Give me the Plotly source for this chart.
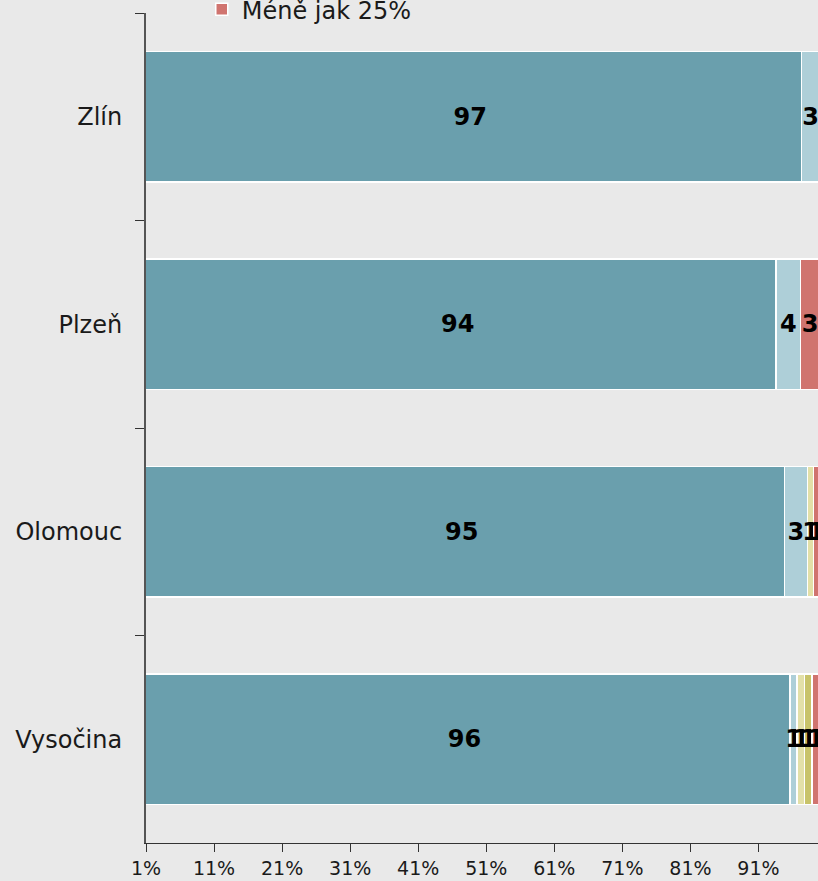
import plotly.graph_objects as go

# ---------- DATA ----------
regions = ["Zlín", "Plzeň", "Olomouc", "Vysočina"]

series_names = ["100%", "75–99%", "50–74%", "25–49%", "Méně jak 25%"]
s_100 = [97.3, 93.6, 94.8, 95.6]
s_75 = [2.7, 3.6, 3.4, 1.1]
s_50 = [None, None, 0.9, 1.1]
s_25 = [None, None, None, 1.1]
s_lt25 = [None, 2.8, 0.9, 1.1]

x_ticks = [1, 11, 21, 31, 41, 51, 61, 71, 81, 91]

# ---------- STYLE ----------
COLORS = ["#6a9fad", "#aecfd8", "#e3e0a8", "#c8c36a", "#d0746f"]
BG = "#e9e9e9"
FONT = "Verdana, DejaVu Sans, sans-serif"

fig = go.Figure()

for i, (name, vals) in enumerate(zip(series_names, [s_100, s_75, s_50, s_25, s_lt25])):
    fig.add_trace(go.Bar(
        y=regions, x=vals, name=name, orientation="h",
        marker=dict(color=COLORS[i], line=dict(color="white", width=1.5)),
        texttemplate="%{x:.0f}", textposition="inside",
        insidetextanchor="middle", textangle=0, constraintext="none",
        textfont=dict(family=FONT, size=24, color="black", weight="bold"),
        showlegend=(i == len(series_names) - 1),
    ))

fig.update_layout(
    width=818, height=881,
    barmode="stack", bargap=0.37,
    paper_bgcolor=BG, plot_bgcolor=BG,
    font=dict(family=FONT, color="#1a1a1a"),
    margin=dict(l=146, r=0, t=13, b=38, autoexpand=False),
    uniformtext=dict(minsize=24, mode="show"),
    xaxis=dict(range=[1, 99.75], tickvals=x_ticks,
               ticktext=[f"{v}%" for v in x_ticks],
               showgrid=False, zeroline=False,
               showline=True, linecolor="#333", linewidth=1,
               ticks="outside", ticklen=8, tickcolor="#333",
               tickfont=dict(size=19, color="#1a1a1a")),
    yaxis=dict(autorange="reversed", showgrid=False, zeroline=False,
               showline=True, linecolor="#555", linewidth=2,
               ticks="outside", ticklen=9, tickcolor="#333",
               tickson="boundaries", ticklabelstandoff=17,
               tickfont=dict(size=24, color="#1a1a1a")),
    legend=dict(x=0.083, xanchor="left", y=1.004, yanchor="middle",
                bgcolor="rgba(0,0,0,0)", font=dict(size=24, color="#1a1a1a")),
)

# drop the browser's default body margin so the chart sits at the page corner
fig.write_html("out.html", config={"displayModeBar": False},
               post_script="document.body.style.margin='0';document.body.style.overflow='hidden';")
